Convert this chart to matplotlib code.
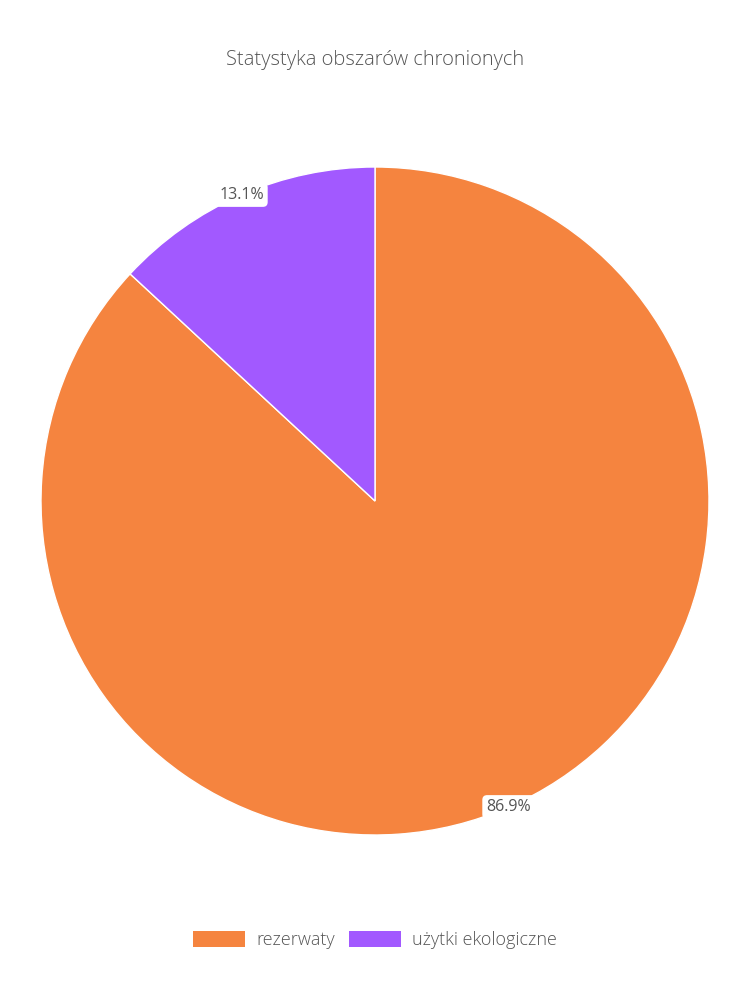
import matplotlib
matplotlib.use("Agg")
import matplotlib.pyplot as plt
from matplotlib.patches import Patch
import numpy as np

title = "Statystyka obszarów chronionych"
categories = ["rezerwaty", "użytki ekologiczne"]
values = [86.9, 13.1]
colors = ["#F5843F", "#A259FF"]

plt.rcParams['font.family'] = ['Open Sans', 'DejaVu Sans']
text_color = "#555555"

fig = plt.figure(figsize=(7.5, 10), dpi=100)
fig.patch.set_facecolor("white")

cx, cy, r = 375, 501, 334
ax = fig.add_axes([(cx - r) / 750, (1000 - cy - r) / 1000, 2 * r / 750, 2 * r / 1000])
wedges, _ = ax.pie(values, colors=colors, startangle=90, counterclock=False,
                   radius=1.0, wedgeprops=dict(edgecolor="white", linewidth=1))
ax.set_xlim(-1, 1)
ax.set_ylim(-1, 1)
ax.set_aspect("equal")
ax.axis("off")

total = sum(values)
start = 90.0
for v in values:
    ang = start - 360 * v / total / 2
    start -= 360 * v / total
    x = np.cos(np.radians(ang))
    y = np.sin(np.radians(ang))
    ax.text(x, y, f"{v:.1f}%", ha="center", va="center", fontsize=11.5, color=text_color,
            bbox=dict(boxstyle="round,pad=0.25,rounding_size=0.3", fc="white", ec="none"))

fig.text(0.5, 1 - 60 / 1000, title, ha="center", va="center", fontsize=14.5,
         color=text_color, fontweight="light")

handles = [Patch(facecolor=c, edgecolor="none") for c in colors]
leg = fig.legend(handles, categories, loc="center", bbox_to_anchor=(0.5, 1 - 940 / 1000), ncol=2,
                 frameon=False, fontsize=13, handlelength=2.9, handleheight=1.0,
                 handletextpad=0.6, columnspacing=0.8, labelcolor=text_color)
for t in leg.get_texts():
    t.set_fontweight("light")

fig.savefig("out.png", dpi=100, facecolor="white")
